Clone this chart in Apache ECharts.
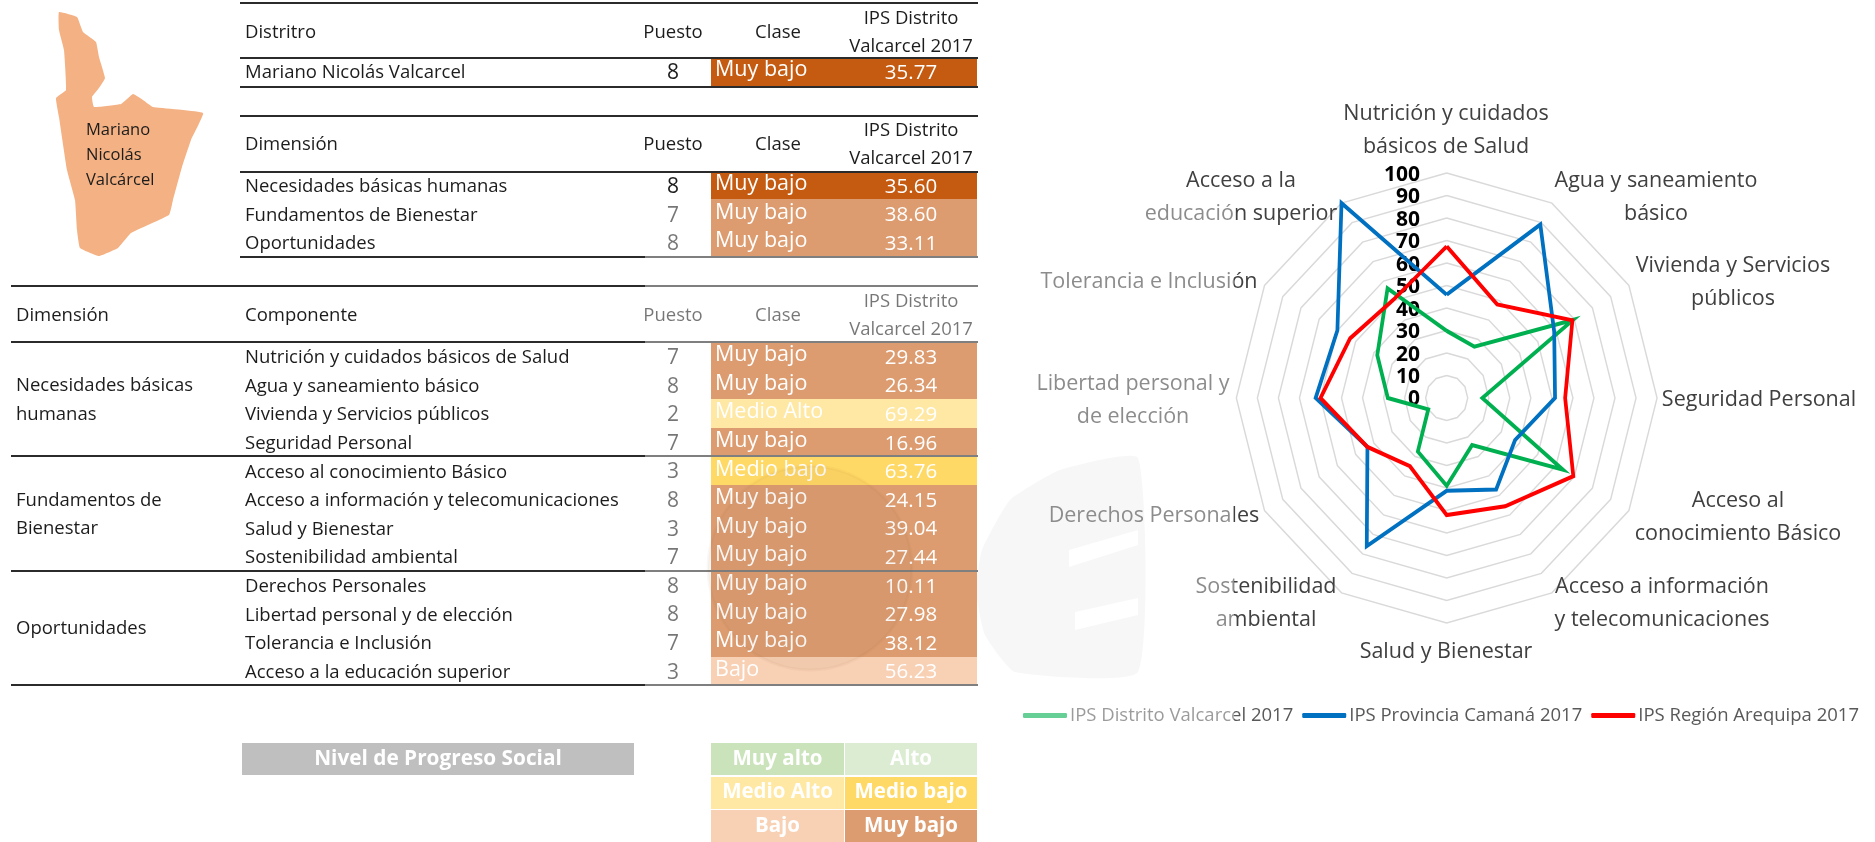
<!DOCTYPE html>
<html><head><meta charset="utf-8">
<style>html,body{margin:0;padding:0;background:#fff}#c{width:1875px;height:842px}</style>
<script src="https://cdn.jsdelivr.net/npm/echarts@6/dist/echarts.min.js"></script>
</head><body><div id="c"></div>
<script>
// ---------- data ----------
const districtName = "Mariano Nicolás Valcarcel";
const districtRank = 8;
const districtClass = "Muy bajo";
const districtValue = "35.77";

const dimensionNames = ["Necesidades básicas humanas", "Fundamentos de Bienestar", "Oportunidades"];
const dimensionRanks = [8, 7, 8];
const dimensionClasses = ["Muy bajo", "Muy bajo", "Muy bajo"];
const dimensionValues = ["35.60", "38.60", "33.11"];

const componentNames = ["Nutrición y cuidados básicos de Salud", "Agua y saneamiento básico", "Vivienda y Servicios públicos", "Seguridad Personal", "Acceso al conocimiento Básico", "Acceso a información y telecomunicaciones", "Salud y Bienestar", "Sostenibilidad ambiental", "Derechos Personales", "Libertad personal y de elección", "Tolerancia e Inclusión", "Acceso a la educación superior"];
const componentRanks = [7, 8, 2, 7, 3, 8, 3, 7, 8, 8, 7, 3];
const componentClasses = ["Muy bajo", "Muy bajo", "Medio Alto", "Muy bajo", "Medio bajo", "Muy bajo", "Muy bajo", "Muy bajo", "Muy bajo", "Muy bajo", "Muy bajo", "Bajo"];
const componentValues = ["29.83", "26.34", "69.29", "16.96", "63.76", "24.15", "39.04", "27.44", "10.11", "27.98", "38.12", "56.23"];

const seriesNames = ["IPS Distrito Valcarcel 2017", "IPS Provincia Camaná 2017", "IPS Región Arequipa 2017"];
const distritoValues = [29.83, 26.34, 69.29, 16.96, 63.76, 24.15, 39.04, 27.44, 10.11, 27.98, 38.12, 56.23];
const provinciaValues = [45.9, 89, 59, 51.5, 37.5, 47, 41.2, 76, 43.5, 62.3, 60, 100];
const regionValues = [67.4, 48, 69, 56.3, 69.5, 55.6, 52, 35, 43.5, 60, 53, 50.5];
const radarTicks = [0, 10, 20, 30, 40, 50, 60, 70, 80, 90, 100];
const radarLabels = ["Nutrición y cuidados\nbásicos de Salud", "Agua y saneamiento\nbásico", "Vivienda y Servicios\npúblicos", "Seguridad Personal", "Acceso al\nconocimiento Básico", "Acceso a información\ny telecomunicaciones", "Salud y Bienestar", "Sostenibilidad\nambiental", "Derechos Personales", "Libertad personal y\nde elección", "Tolerancia e Inclusión", "Acceso a la\neducación superior"];
const levelLabels = ["Muy alto", "Alto", "Medio Alto", "Medio bajo", "Bajo", "Muy bajo"];

// ---------- layout / style ----------
const FONT = '"Open Sans","Noto Sans",sans-serif';
const classColor = {"Muy alto":"#A9D18E","Alto":"#C5E0B4","Medio Alto":"#FFD966","Medio bajo":"#FFC000","Bajo":"#F4B183","Muy bajo":"#C55A11"};
const lineColors = ["#00B050", "#0070C0", "#FF0000"];
const labelPos = [[1446,130],[1656,197],[1733,282],[1759,400],[1738,517],[1662,603],[1446,652],[1266,603],[1154,516],[1133,400],[1149,282],[1241,197]];
const RADAR_CX = 1446.7, RADAR_SQUEEZE = 0.935;
const g = [];
const TXT = 18.5;
function text(s, x, y, size, color, align, extra) {
  g.push({type:'text', x, y, z:10, style:Object.assign({text:s, fill:color, font:`${size}px ${FONT}`, align:align||'left', verticalAlign:'middle'}, extra||{})});
}
function rect(x, y, w, h, fill, z) { g.push({type:'rect', z:z||5, shape:{x:Math.round(x), y:Math.round(y), width:w, height:Math.round(y+h)-Math.round(y)}, style:{fill}}); }
function rule(x1, x2, y) { g.push({type:'rect', z:12, shape:{x:x1, y:y-1, width:x2-x1, height:2}, style:{fill:'#2b2b2b'}}); }
const INK = '#1c1c1c';
function header(first, y) {
  text(first, 245, y+1, TXT, INK);
  text("Puesto", 673, y+1, TXT, INK, 'center');
  text("Clase", 778, y+1, TXT, INK, 'center');
  text("IPS Distrito", 911, y-13, TXT, INK, 'center');
  text("Valcarcel 2017", 911, y+15, TXT, INK, 'center');
}
function row(name, rank, cls, val, yc, top, h) {
  text(name, 245, yc+1, TXT, INK);
  text(String(rank), 673, yc+1, 21, INK, 'center');
  rect(711, top, 266, h, classColor[cls]);
  text(cls, 715, yc-2, 21.5, '#fff');
  text(val, 911, yc+1, 20.5, '#fff', 'center');
}
// map
g.push({type:'polygon', z:3, shape:{smooth:0.1, points:[[59,12],[77,17],[83,32],[96,42],[99,57],[105,78],[99,88],[92,97],[94,107],[121,104],[133,94],[143,100],[153,107],[203,113],[191,140],[182,167],[173,200],[169,215],[131,233],[118,248],[99,256],[80,248],[77,230],[75,200],[67,170],[59,117],[56,98],[66,90],[64,50],[59,30]]}, style:{fill:'#F4B183'}});
["Mariano","Nicolás","Valcárcel"].forEach((s,i)=>text(s,86,130+25*i,16.5,INK));
// table 1
header("Distritro", 32);
row(districtName, districtRank, districtClass, districtValue, 72, 59, 28);
[3,58,87].forEach(y=>rule(240,978,y));
// table 2
header("Dimensión", 144);
dimensionNames.forEach((n,i)=>row(n, dimensionRanks[i], dimensionClasses[i], dimensionValues[i], 186+28.6*i, 172+28.4*i, 28.6));
[116,172,257].forEach(y=>rule(240,978,y));
// table 3
text("Dimensión", 16, 316, TXT, INK);
header("Componente", 315);
componentNames.forEach((n,i)=>row(n, componentRanks[i], componentClasses[i], componentValues[i], 357+28.6*i, 342+28.6*i, 28.6));
[286,342,456,571,685].forEach(y=>rule(11,978,y));
text("Necesidades básicas",16,386,TXT,INK); text("humanas",16,415,TXT,INK);
text("Fundamentos de",16,501,TXT,INK); text("Bienestar",16,529,TXT,INK);
text("Oportunidades",16,629,TXT,INK);
// level legend
rect(242,743,392,32,'#BFBFBF');
text("Nivel de Progreso Social",438,759,20,'#fff','center',{font:`bold 20.8px ${FONT}`});
levelLabels.forEach((s,i)=>{
  const cx = i%2, r = Math.floor(i/2);
  const x = cx?845:711, w = cx?132:133, y = 743+33.6*r, h = 32;
  rect(x, y, w, h, classColor[s]);
  text(s, x+w/2, y+h/2, 20, '#fff', 'center', {font:`bold 20.5px ${FONT}`});
});
// radar labels
radarLabels.forEach((s,i)=>text(s, labelPos[i][0], labelPos[i][1], 21.5, '#404040', 'center', {lineHeight:33}));
// watermark
g.push({type:'polygon', z:1, shape:{smooth:0.15, points:[[1138,458],[1060,470],[1010,500],[982,550],[976,590],[985,635],[1015,672],[1138,672]]}, style:{fill:'#F2F2F2'}});
g.push({type:'polygon', z:1, shape:{points:[[1069,550],[1138,530],[1138,545],[1069,567]]}, style:{fill:'#fff'}});
g.push({type:'polygon', z:1, shape:{points:[[1075,612],[1138,598],[1138,615],[1075,630]]}, style:{fill:'#fff'}});
// translucent sheet + seal
g.push({type:'rect', z:100, shape:{x:645, y:199, width:589, height:643}, style:{fill:'rgba(255,255,255,0.4)'}});
g.push({type:'circle', z:101, shape:{cx:810, cy:568, r:102}, style:{fill:'rgba(120,70,30,0.05)', stroke:'rgba(120,70,30,0.04)', lineWidth:3}});

// ECharts lays radar indicators out anticlockwise; the reference runs clockwise.
const clockwiseOrder = arr => [arr[0]].concat(arr.slice(1).reverse());

const option = {
  animation:false,
  backgroundColor:'#fff',
  textStyle:{fontFamily:FONT},
  legend:{left:1023, top:706, padding:0, itemWidth:44, itemHeight:5, itemGap:9, icon:'roundRect', z:50,
    textStyle:{fontSize:18.5, color:'#595959', fontFamily:FONT, padding:[0,0,0,-2]}, data:seriesNames},
  radar:{center:[RADAR_CX,398], radius:225, startAngle:90, shape:'polygon', splitNumber:10,
    indicator:clockwiseOrder(componentNames).map(n=>({name:n, min:0, max:100})),
    axisName:{show:false}, axisLine:{show:false}, axisTick:{show:false},
    splitArea:{show:false}, splitLine:{lineStyle:{color:'#D9D9D9', width:1.5}}},
  grid:{left:1424, width:10, top:175, height:224.5, containLabel:false},
  xAxis:{type:'value', show:false, min:0, max:1},
  yAxis:{type:'value', min:0, max:100, interval:10, position:'left',
    axisLine:{show:false}, axisTick:{show:false}, splitLine:{show:false},
    axisLabel:{show:true, margin:4, color:'#000', fontWeight:'bold', fontSize:21, fontFamily:FONT,
      customValues:radarTicks, formatter:v=>String(v)}},
  series:[{type:'radar', symbol:'none', z:3,
    data:[distritoValues, provinciaValues, regionValues].map((v,i)=>({
      name:seriesNames[i], value:clockwiseOrder(v),
      lineStyle:{color:lineColors[i], width:4, join:'miter'}, itemStyle:{color:lineColors[i]}
    }))}],
  graphic:{elements:g}
};
const chart = echarts.init(document.getElementById('c'),null,{renderer:'canvas'});
chart.setOption(option);
// The reference's radar is slightly narrower than tall: squeeze the radar views horizontally.
(chart._componentsViews||[]).concat(chart._chartsViews||[]).forEach(v=>{
  if (v && v.type==='radar' && v.group) {
    v.group.originX = RADAR_CX; v.group.scaleX = RADAR_SQUEEZE; v.group.markRedraw();
  }
});
chart.getZr().refreshImmediately();
</script></body></html>
